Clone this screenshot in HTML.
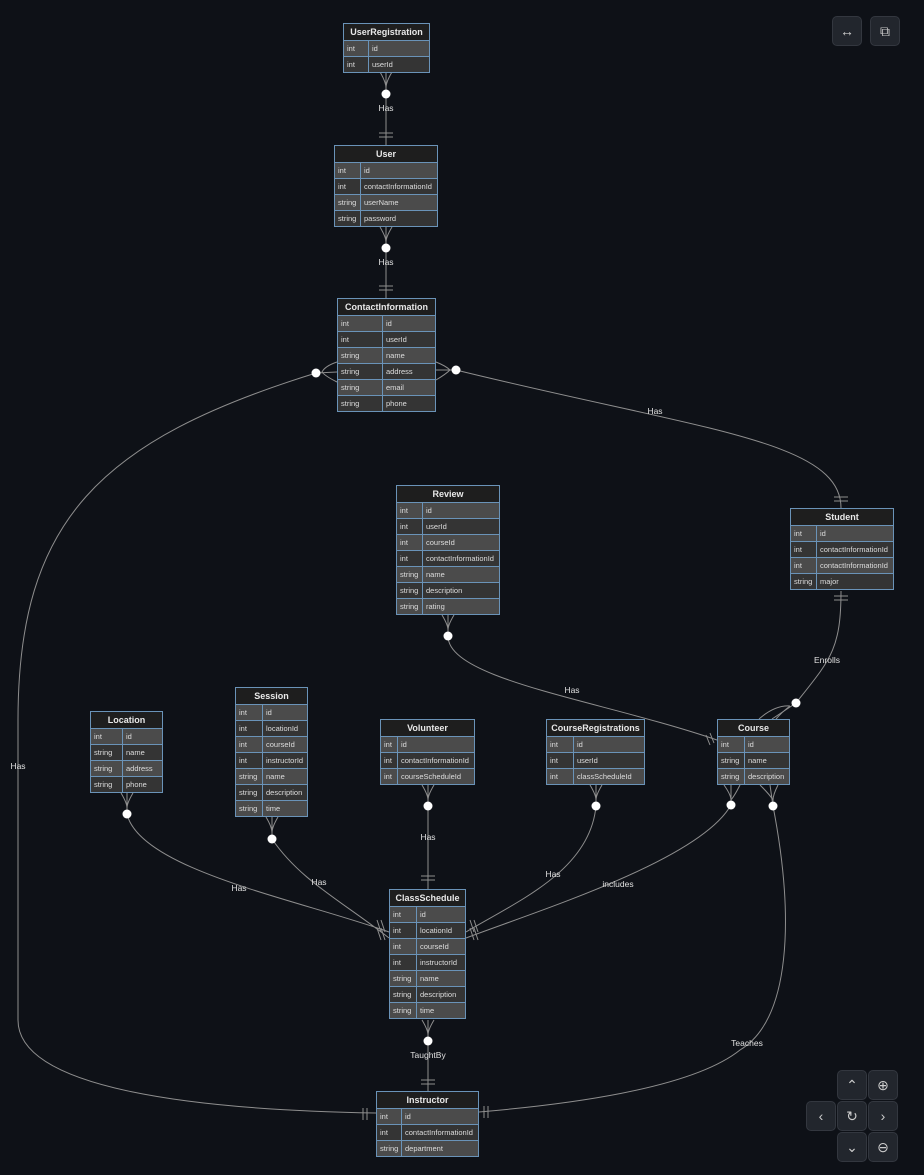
<!DOCTYPE html>
<html><head><meta charset="utf-8"><style>
html,body{margin:0;padding:0;background:#0e1117;width:924px;height:1175px;overflow:hidden;font-family:"Liberation Sans",sans-serif}
.t{position:absolute;border:1px solid #6a93b8;background:#6a93b8;box-sizing:border-box}
.h{background:#1e1e1e;color:#e8e8e8;font-size:9px;font-weight:bold;text-align:center;height:16px;line-height:16px}
.r{display:flex;height:16px;border-top:1px solid #6a93b8;box-sizing:border-box;font-size:7.5px;color:#ddd;line-height:15px}
.r:nth-child(even) .c{background:#4b4b4b}
.r:nth-child(odd) .c{background:#343434}
.c{padding-left:3px;box-sizing:border-box;white-space:nowrap;overflow:hidden}
.c:first-child{border-right:1px solid #6a93b8}
.c:last-child{flex:1}
svg{position:absolute;left:0;top:0}
.btn{position:absolute;width:30px;height:30px;border-radius:5px;background:#22262d;border:1px solid #33373f;box-sizing:border-box;color:#ccc;font-size:14px;text-align:center;line-height:28px}
</style></head><body>
<svg width="924" height="1175" fill="none" stroke="#8e8e8e" stroke-width="1">
<path d="M386,72V145 M386,227V298 M337,372 L316,373 C100,440 18,520 18,720 L18,1020 C18,1090 200,1110 376,1113 M436,370 L456,370 C700,430 841,440 841,508 M448,615 L448,636 C448,680 600,700 717,740 M841,591 C841,650 830,660 796,703 L772,719 M127,793 L127,814 C140,870 300,900 389,932 M272,817 L272,839 C300,880 340,900 389,938 M428,785V889 M596,785 L596,806 C590,870 520,900 466,932 M731,785 L731,805 C700,860 540,910 466,938 M770,785 L773,806 C795,920 790,1020 740,1050 C690,1090 560,1105 479,1112 M428,1020V1091"/>
<g>
<path d="M380,72 Q386,82 386,88 Q386,82 392,72"/><path d="M380,227 Q386,237 386,242 Q386,237 392,227"/>
<path d="M379,133h14M379,137h14M379,286h14M379,290h14"/>
<path d="M337,362 Q325,366 322,372 Q325,376 337,382"/><path d="M436,362 Q446,366 450,370 Q446,374 436,380"/>
<path d="M834,497h14M834,501h14M834,596h14M834,600h14"/>
<path d="M442,615 Q448,625 448,630 Q448,625 454,615"/>
<path d="M759,719 Q775,705 790,706 M776,719 Q782,712 790,706"/>
<path d="M706,735l4,10M710,733l4,10"/>
<path d="M121,793 Q127,803 127,808 Q127,803 133,793"/><path d="M266,817 Q272,827 272,833 Q272,827 278,817"/>
<path d="M422,785 Q428,795 428,800 Q428,795 434,785"/><path d="M590,785 Q596,795 596,800 Q596,795 602,785"/>
<path d="M724,785 Q731,795 731,800 Q735,795 740,785"/><path d="M760,785 Q770,795 773,800 Q773,795 778,785"/>
<path d="M421,876h14M421,880h14"/>
<path d="M377,920l4,12M381,920l4,12M377,928l4,12M381,928l4,12M470,920l4,12M474,920l4,12M470,928l4,12M474,928l4,12"/>
<path d="M422,1020 Q428,1030 428,1035 Q428,1030 434,1020"/><path d="M421,1080h14M421,1084h14"/>
<path d="M363,1108v12M367,1108v12M484,1106v12M488,1106v12"/>
</g>
<g fill="#fff" stroke="none">
<circle cx="386" cy="94" r="4.5"/><circle cx="386" cy="248" r="4.5"/><circle cx="316" cy="373" r="4.5"/><circle cx="456" cy="370" r="4.5"/><circle cx="448" cy="636" r="4.5"/><circle cx="796" cy="703" r="4.5"/><circle cx="127" cy="814" r="4.5"/><circle cx="272" cy="839" r="4.5"/><circle cx="428" cy="806" r="4.5"/><circle cx="596" cy="806" r="4.5"/><circle cx="731" cy="805" r="4.5"/><circle cx="773" cy="806" r="4.5"/><circle cx="428" cy="1041" r="4.5"/>
</g>
<g fill="#e0e0e0" stroke="none" font-family="Liberation Sans" font-size="8.5" text-anchor="middle">
<text x="386" y="111">Has</text><text x="386" y="265">Has</text><text x="18" y="769">Has</text><text x="655" y="414">Has</text><text x="572" y="693">Has</text><text x="827" y="663">Enrolls</text><text x="239" y="891">Has</text><text x="319" y="885">Has</text><text x="428" y="840">Has</text><text x="553" y="877">Has</text><text x="618" y="887">includes</text><text x="747" y="1046">Teaches</text><text x="428" y="1058">TaughtBy</text>
</g>
</svg>

<div class="t" style="left:343px;top:23px;width:87px"><div class="h">UserRegistration</div><div class="r"><div class="c" style="width:25px">int</div><div class="c">id</div></div><div class="r"><div class="c" style="width:25px">int</div><div class="c">userId</div></div></div>

<div class="t" style="left:334px;top:145px;width:104px"><div class="h">User</div><div class="r"><div class="c" style="width:26px">int</div><div class="c">id</div></div><div class="r"><div class="c" style="width:26px">int</div><div class="c">contactInformationId</div></div><div class="r"><div class="c" style="width:26px">string</div><div class="c">userName</div></div><div class="r"><div class="c" style="width:26px">string</div><div class="c">password</div></div></div>

<div class="t" style="left:337px;top:298px;width:99px"><div class="h">ContactInformation</div><div class="r"><div class="c" style="width:45px">int</div><div class="c">id</div></div><div class="r"><div class="c" style="width:45px">int</div><div class="c">userId</div></div><div class="r"><div class="c" style="width:45px">string</div><div class="c">name</div></div><div class="r"><div class="c" style="width:45px">string</div><div class="c">address</div></div><div class="r"><div class="c" style="width:45px">string</div><div class="c">email</div></div><div class="r"><div class="c" style="width:45px">string</div><div class="c">phone</div></div></div>

<div class="t" style="left:396px;top:485px;width:104px"><div class="h">Review</div><div class="r"><div class="c" style="width:26px">int</div><div class="c">id</div></div><div class="r"><div class="c" style="width:26px">int</div><div class="c">userId</div></div><div class="r"><div class="c" style="width:26px">int</div><div class="c">courseId</div></div><div class="r"><div class="c" style="width:26px">int</div><div class="c">contactInformationId</div></div><div class="r"><div class="c" style="width:26px">string</div><div class="c">name</div></div><div class="r"><div class="c" style="width:26px">string</div><div class="c">description</div></div><div class="r"><div class="c" style="width:26px">string</div><div class="c">rating</div></div></div>

<div class="t" style="left:790px;top:508px;width:104px"><div class="h">Student</div><div class="r"><div class="c" style="width:26px">int</div><div class="c">id</div></div><div class="r"><div class="c" style="width:26px">int</div><div class="c">contactInformationId</div></div><div class="r"><div class="c" style="width:26px">int</div><div class="c">contactInformationId</div></div><div class="r"><div class="c" style="width:26px">string</div><div class="c">major</div></div></div>

<div class="t" style="left:90px;top:711px;width:73px"><div class="h">Location</div><div class="r"><div class="c" style="width:32px">int</div><div class="c">id</div></div><div class="r"><div class="c" style="width:32px">string</div><div class="c">name</div></div><div class="r"><div class="c" style="width:32px">string</div><div class="c">address</div></div><div class="r"><div class="c" style="width:32px">string</div><div class="c">phone</div></div></div>

<div class="t" style="left:235px;top:687px;width:73px"><div class="h">Session</div><div class="r"><div class="c" style="width:27px">int</div><div class="c">id</div></div><div class="r"><div class="c" style="width:27px">int</div><div class="c">locationId</div></div><div class="r"><div class="c" style="width:27px">int</div><div class="c">courseId</div></div><div class="r"><div class="c" style="width:27px">int</div><div class="c">instructorId</div></div><div class="r"><div class="c" style="width:27px">string</div><div class="c">name</div></div><div class="r"><div class="c" style="width:27px">string</div><div class="c">description</div></div><div class="r"><div class="c" style="width:27px">string</div><div class="c">time</div></div></div>

<div class="t" style="left:380px;top:719px;width:95px"><div class="h">Volunteer</div><div class="r"><div class="c" style="width:17px">int</div><div class="c">id</div></div><div class="r"><div class="c" style="width:17px">int</div><div class="c">contactInformationId</div></div><div class="r"><div class="c" style="width:17px">int</div><div class="c">courseScheduleId</div></div></div>

<div class="t" style="left:546px;top:719px;width:99px"><div class="h">CourseRegistrations</div><div class="r"><div class="c" style="width:27px">int</div><div class="c">id</div></div><div class="r"><div class="c" style="width:27px">int</div><div class="c">userId</div></div><div class="r"><div class="c" style="width:27px">int</div><div class="c">classScheduleId</div></div></div>

<div class="t" style="left:717px;top:719px;width:73px"><div class="h">Course</div><div class="r"><div class="c" style="width:27px">int</div><div class="c">id</div></div><div class="r"><div class="c" style="width:27px">string</div><div class="c">name</div></div><div class="r"><div class="c" style="width:27px">string</div><div class="c">description</div></div></div>

<div class="t" style="left:389px;top:889px;width:77px"><div class="h">ClassSchedule</div><div class="r"><div class="c" style="width:27px">int</div><div class="c">id</div></div><div class="r"><div class="c" style="width:27px">int</div><div class="c">locationId</div></div><div class="r"><div class="c" style="width:27px">int</div><div class="c">courseId</div></div><div class="r"><div class="c" style="width:27px">int</div><div class="c">instructorId</div></div><div class="r"><div class="c" style="width:27px">string</div><div class="c">name</div></div><div class="r"><div class="c" style="width:27px">string</div><div class="c">description</div></div><div class="r"><div class="c" style="width:27px">string</div><div class="c">time</div></div></div>

<div class="t" style="left:376px;top:1091px;width:103px"><div class="h">Instructor</div><div class="r"><div class="c" style="width:25px">int</div><div class="c">id</div></div><div class="r"><div class="c" style="width:25px">int</div><div class="c">contactInformationId</div></div><div class="r"><div class="c" style="width:25px">string</div><div class="c">department</div></div></div>

<div class="btn" style="left:832px;top:16px">&#8596;</div>
<div class="btn" style="left:870px;top:16px">&#10697;</div>
<div class="btn" style="left:837px;top:1070px">&#8963;</div>
<div class="btn" style="left:868px;top:1070px">&#8853;</div>
<div class="btn" style="left:806px;top:1101px">&#8249;</div>
<div class="btn" style="left:837px;top:1101px">&#8635;</div>
<div class="btn" style="left:868px;top:1101px">&#8250;</div>
<div class="btn" style="left:837px;top:1132px">&#8964;</div>
<div class="btn" style="left:868px;top:1132px">&#8854;</div>
</body></html>
